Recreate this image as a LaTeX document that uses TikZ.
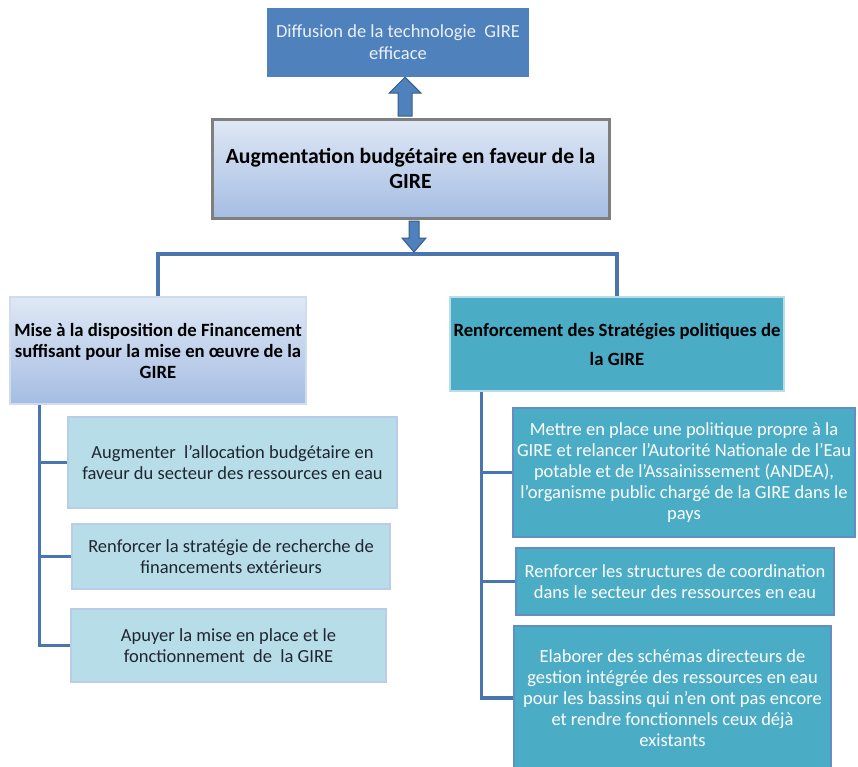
\documentclass[tikz,border=0pt]{standalone}
\usepackage{fontspec}
\setmainfont{Carlito}
\usetikzlibrary{calc}

\definecolor{gireblue}{HTML}{4F81BD}
\definecolor{giredark}{HTML}{385D8A}
\definecolor{girelink}{HTML}{4A76B0}
\definecolor{gireteal}{HTML}{4BACC6}
\definecolor{girepale}{HTML}{B7DDE8}
\definecolor{girelav}{HTML}{BACDE6}
\definecolor{gradtop}{HTML}{DFE8F5}
\definecolor{gradbot}{HTML}{A5BDE3}
\definecolor{giregray}{HTML}{7F7F7F}
\definecolor{giretext}{HTML}{1F2630}

\tikzset{
  box/.style={align=center, inner sep=0pt},
  topbox/.style={box, fill=gireblue, text=white!88!gireblue,
    font=\fontsize{18.5}{22}\selectfont},
  budget/.style={box, draw=giregray, line width=3pt, top color=gradtop,
    bottom color=gradbot, font=\fontsize{21.7}{25}\selectfont\bfseries},
  leftmain/.style={box, draw=girelav!70!white, line width=2.5pt, top color=gradtop,
    bottom color=gradbot, font=\fontsize{18.7}{21}\selectfont\bfseries},
  rightmain/.style={box, draw=girepale, line width=2.5pt, fill=gireteal,
    font=\fontsize{18.7}{29}\selectfont\bfseries},
  leftsub/.style={box, draw=girelav, line width=2pt, fill=girepale, text=giretext,
    font=\fontsize{18.5}{21}\selectfont},
  rightsub/.style={box, draw=gireblue!90!white, line width=2.5pt, fill=gireteal,
    text=white, font=\fontsize{18.5}{21}\selectfont},
  link/.style={draw=girelink, line width=3.3pt},
  blockarr/.style={fill=gireblue, draw=giredark, line width=1pt, line join=miter}
}

\begin{document}
\begin{tikzpicture}[x=1pt, y=-1pt]
  \useasboundingbox (0,0) rectangle (858,766);
  \fill[white] (0,0) rectangle (858,766);
  \clip (0,0) rectangle (858,766);

  % top of the tree
  \node[topbox, minimum width=262, minimum height=69] (diff) at (398,42.5)
    {Diffusion de la technologie \ GIRE\\efficace};
  \node[budget, minimum width=397, minimum height=99] (aug) at (410.5,168.5)
    {Augmentation budgétaire en faveur de la\\GIRE};

  % two main branches
  \node[leftmain, minimum width=296, minimum height=107] (fin) at (158,350.5)
    {Mise à la disposition de Financement\\suffisant pour la mise en œuvre de la\\GIRE};
  \node[rightmain, minimum width=334, minimum height=94] (strat) at (617,344)
    {Renforcement des Stratégies politiques de\\la GIRE};

  % actions under the left branch
  \node[leftsub, minimum width=329, minimum height=91] (l1) at (232.5,462.5)
    {Augmenter \ l’allocation budgétaire en\\faveur du secteur des ressources en eau};
  \node[leftsub, minimum width=318, minimum height=65] (l2) at (231,556.5)
    {Renforcer la stratégie de recherche de\\financements extérieurs};
  \node[leftsub, minimum width=315, minimum height=73] (l3) at (228.5,645.5)
    {Apuyer la mise en place et le\\fonctionnement \ de \ la GIRE};

  % actions under the right branch
  \node[rightsub, minimum width=342, minimum height=129] (r1) at (684,472.5)
    {Mettre en place une politique propre à la\\GIRE et relancer l’Autorité Nationale de l’Eau\\potable et de l’Assainissement (ANDEA),\\l’organisme public chargé de la GIRE dans le\\pays};
  \node[rightsub, minimum width=318, minimum height=67] (r2) at (675,581.5)
    {Renforcer les structures de coordination\\dans le secteur des ressources en eau};
  \node[rightsub, minimum width=317, minimum height=144] (r3) at (672.5,698)
    {Elaborer des schémas directeurs de\\gestion intégrée des ressources en eau\\pour les bassins qui n’en ont pas encore\\et rendre fonctionnels ceux déjà\\existants};

  % block arrow up
  \coordinate (ub) at ($(aug.north)+(-5.5,-1.5)$);
  \coordinate (ut) at (ub |- diff.south);
  \draw[blockarr] ($(ub)+(-7,0)$) -- ($(ut)+(-7,16)$) -- ($(ut)+(-16,16)$) -- (ut)
    -- ($(ut)+(16,16)$) -- ($(ut)+(7,16)$) -- ($(ub)+(7,0)$) -- cycle;

  % block arrow down
  \coordinate (db) at ($(aug.south)+(3.5,1.5)$);
  \coordinate (dt) at ($(db)+(0,31)$);
  \coordinate (hub) at ($(dt)+(0,2)$);
  \draw[link] (fin.north) |- (hub) -| (strat.north);
  \draw[blockarr] ($(db)+(-5,0)$) -- ($(dt)+(-5,-14)$) -- ($(dt)+(-12,-14)$) -- (dt)
    -- ($(dt)+(12,-14)$) -- ($(dt)+(5,-14)$) -- ($(db)+(5,0)$) -- cycle;

  % left spine
  \coordinate (lsp) at ($(fin.south west)+(31,0)$);
  \draw[link] (lsp) |- (l3.west);
  \draw[link] (lsp |- l1.west) -- (l1.west);
  \draw[link] (lsp |- l2.west) -- (l2.west);

  % right spine
  \coordinate (rsp) at ($(strat.south west)+(33,0)$);
  \draw[link] (rsp) |- (r3.west);
  \draw[link] (rsp |- r1.west) -- (r1.west);
  \draw[link] (rsp |- r2.west) -- (r2.west);
\end{tikzpicture}
\end{document}
